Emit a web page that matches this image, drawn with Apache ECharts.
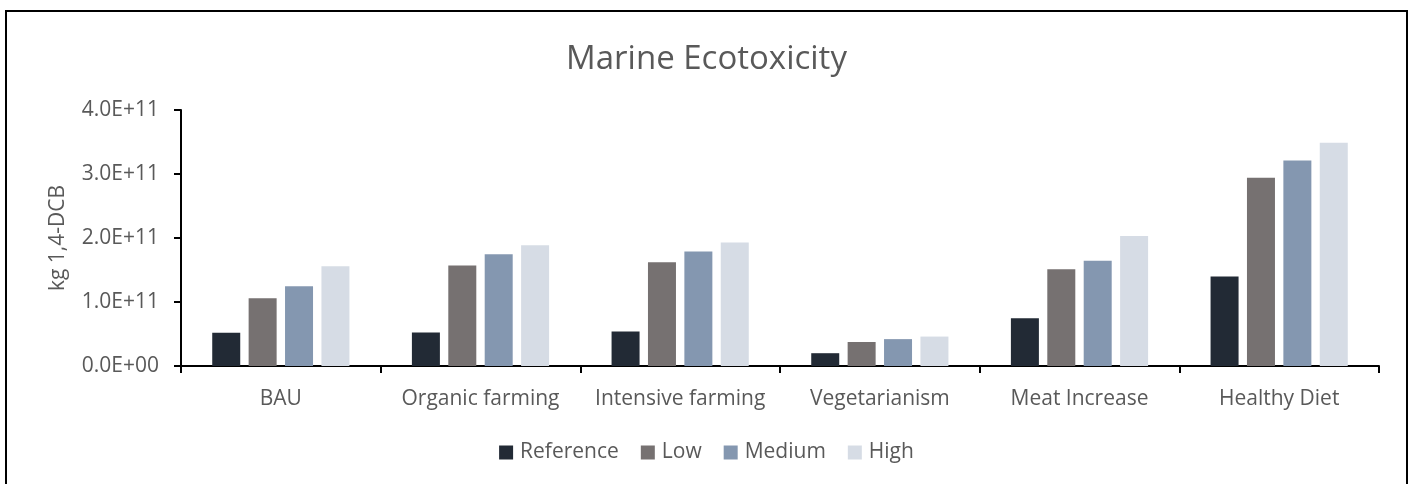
<!DOCTYPE html>
<html>
<head>
<meta charset="utf-8">
<script src="https://cdn.jsdelivr.net/npm/echarts@6/dist/echarts.min.js"></script>
<style>
  html, body { margin: 0; padding: 0; background: #ffffff; }
  #chart { width: 1413px; height: 484px; }
</style>
</head>
<body>
<div id="chart"></div>
<script>
// Scenario categories on the x axis
const categories = ['BAU', 'Organic farming', 'Intensive farming', 'Vegetarianism', 'Meat Increase', 'Healthy Diet'];

// Marine ecotoxicity per scenario (kg 1,4-DCB)
const referenceValues = [5.2e10, 5.25e10, 5.4e10, 2.0e10, 7.45e10, 1.40e11];
const lowValues       = [1.06e11, 1.57e11, 1.62e11, 3.75e10, 1.51e11, 2.94e11];
const mediumValues    = [1.245e11, 1.745e11, 1.79e11, 4.2e10, 1.646e11, 3.21e11];
const highValues      = [1.557e11, 1.885e11, 1.93e11, 4.6e10, 2.03e11, 3.49e11];

const seriesNames = ['Reference', 'Low', 'Medium', 'High'];
const seriesColors = ['#222a35', '#767171', '#8497b0', '#d6dce5'];

// Y-axis tick labels in scientific notation, e.g. 4.0E+11, 0.0E+00
function sci(v) {
  if (v === 0) return '0.0E+00';
  const exp = Math.floor(Math.log10(Math.abs(v)));
  const mant = v / Math.pow(10, exp);
  const e = (exp < 0 ? '-' : '+') + String(Math.abs(exp)).padStart(2, '0');
  return mant.toFixed(1) + 'E' + e;
}

const FONT = '"Open Sans", "Noto Sans", sans-serif';
const TEXT = '#595959';

const chart = echarts.init(document.getElementById('chart'), null, { renderer: 'canvas' });

const valueSets = [referenceValues, lowValues, mediumValues, highValues];

chart.setOption({
  animation: false,
  backgroundColor: '#ffffff',
  graphic: [{
    type: 'rect',
    shape: { x: 6, y: 11, width: 1401, height: 520 },
    style: { fill: 'none', stroke: '#000000', lineWidth: 2 },
    z: -1,
    silent: true
  }],
  title: {
    text: 'Marine Ecotoxicity',
    left: 'center',
    top: 38,
    textStyle: { fontFamily: FONT, fontSize: 33, fontWeight: 'normal', color: TEXT }
  },
  legend: {
    data: seriesNames,
    left: 'center',
    top: 437,
    icon: 'rect',
    itemWidth: 14,
    itemHeight: 14,
    itemGap: 22,
    textStyle: { fontFamily: FONT, fontSize: 21, color: TEXT, padding: [0, 0, 0, 2] }
  },
  grid: { left: 181, right: 34, top: 110, bottom: 118 },
  xAxis: {
    type: 'category',
    data: categories,
    axisLine: { lineStyle: { color: '#000000', width: 2 } },
    axisTick: { show: true, length: 7, lineStyle: { color: '#000000', width: 2 } },
    axisLabel: { interval: 0, fontFamily: FONT, fontSize: 21, color: TEXT, margin: 23 }
  },
  yAxis: {
    type: 'value',
    min: 0,
    max: 4e11,
    interval: 1e11,
    name: 'kg 1,4-DCB',
    nameLocation: 'middle',
    nameGap: 112,
    nameTextStyle: { fontFamily: FONT, fontSize: 21, color: TEXT },
    axisLine: { show: true, lineStyle: { color: '#000000', width: 2 } },
    axisTick: { show: true, length: 7, lineStyle: { color: '#000000', width: 2 } },
    splitLine: { show: false },
    axisLabel: { fontFamily: FONT, fontSize: 21, color: TEXT, margin: 22, formatter: sci }
  },
  series: seriesNames.map((name, i) => ({
    name: name,
    type: 'bar',
    data: valueSets[i],
    barWidth: 28,
    barGap: '30%',
    itemStyle: { color: seriesColors[i] }
  }))
});
</script>
</body>
</html>
